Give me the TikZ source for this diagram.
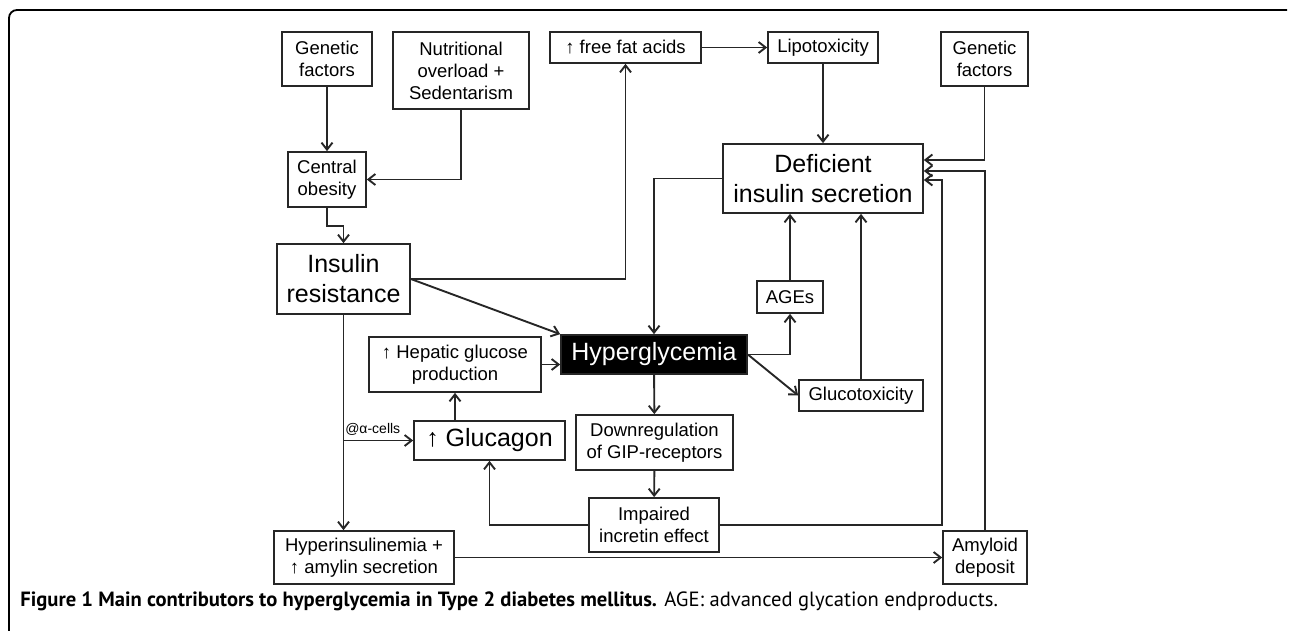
\documentclass[tikz,border=0pt]{standalone}
\usepackage{fontspec}
\setmainfont{Liberation Sans}
\newfontfamily\capfont{PT Sans}
\usetikzlibrary{arrows.meta}

\begin{document}
\begin{tikzpicture}[x=0.5pt, y=-0.5pt,
  box/.style={draw=black!85, line width=0.85pt, inner sep=0pt, align=center,
    font=\fontsize{9.25pt}{11pt}\selectfont},
  bigbox/.style={box, font=\fontsize{12.5pt}{15pt}\selectfont},
  link/.style={line width=0.95pt, draw=black!85},
  arr/.style={link, -{Straight Barb[length=3.5pt,width=5.5pt]}}]
\useasboundingbox (0,0) rectangle (1290,631);

% Marco
\draw [line width=0.9pt, rounded corners=4pt] (9,631) -- (9,10) -- (1287,10);

% Columna izquierda
\node [box, minimum width=45pt, minimum height=27pt] (gen1) at (327,59) {Genetic\\factors};
\node [box, minimum width=68pt, minimum height=38.5pt] (nutr) at (461,70.5) {Nutritional\\overload +\\Sedentarism};
\node [box, minimum width=39pt, minimum height=27.5pt] (obes) at (327,179.5) {Central\\obesity};
\node [bigbox, minimum width=66.5pt, minimum height=35pt] (insres) at (343.5,279) {Insulin\\resistance};
\node [box, minimum width=86pt, minimum height=27.5pt] (hepat) at (455,364.5) {↑ Hepatic glucose\\production};
\node [bigbox, minimum width=75.5pt, minimum height=19.5pt] (glucag) at (489.5,440.5) {↑ Glucagon};
\node [box, minimum width=90pt, minimum height=26.5pt] (hyperins) at (364,557.5) {Hyperinsulinemia +\\↑ amylin secretion};

% Centro
\node [box, minimum width=75.5pt, minimum height=15.5pt] (ffa) at (625.5,47.5) {↑ free fat acids};
\node [bigbox, fill=black, text=white, minimum width=93pt, minimum height=19.5pt] (hyper) at (654,354.5) {Hyperglycemia};
\node [box, minimum width=78.5pt, minimum height=27.5pt] (downr) at (654.5,442.5) {Downregulation\\of GIP-receptors};
\node [box, minimum width=65pt, minimum height=27pt] (impair) at (654,525) {Impaired\\incretin effect};

% Columna derecha
\node [box, minimum width=55pt, minimum height=15.5pt] (lipo) at (823,47.5) {Lipotoxicity};
\node [box, minimum width=43.5pt, minimum height=27pt] (gen2) at (984.5,59) {Genetic\\factors};
\node [bigbox, minimum width=100pt, minimum height=34.5pt] (defic) at (823,178.5) {Deficient\\insulin secretion};
\node [box, minimum width=33pt, minimum height=16pt] (ages) at (790,297) {AGEs};
\node [box, minimum width=62pt, minimum height=15.5pt] (gluco) at (861,395.5) {Glucotoxicity};
\node [box, minimum width=42pt, minimum height=26.5pt] (amyl) at (985,557.5) {Amyloid\\deposit};

% Flechas
\draw [arr] (gen1) -- (obes);
\draw [arr] (nutr.south) |- (obes.east);
\draw [arr] (obes.south) -- ++(0,18) -| (insres.north);
\draw [arr] (insres.east) -| (ffa.south);
\draw [arr] (insres.east) -- (hyper.north west);
\draw [arr] (ffa) -- (lipo);
\draw [arr] (lipo) -- (defic);
\draw [arr] (gen2.south) |- (defic.east |- 0,160);
\draw [arr] (amyl.north) |- (defic.east |- 0,171);
\draw [arr] (impair.east) -| (942,180) -- (defic.east |- 0,180);
\draw [arr] (defic.west) -| (hyper.north);
\draw [arr] (hyper.east) -| (ages.south);
\draw [arr] (ages.north) -- (ages.north |- defic.south);
\draw [arr] (hyper.east) -- (gluco.west);
\draw [arr] (gluco.north) -- (gluco.north |- defic.south);
\draw [arr] (hepat.east) -- (hyper.west |- hepat.east);
\draw [arr] (hepat.south |- glucag.north) -- (hepat.south);
\draw [arr] (insres.south) -- (insres.south |- hyperins.north);
\draw [arr] (insres.south |- glucag.west) -- (glucag.west)
  node [pos=0.42, above, inner sep=2pt, font=\fontsize{7pt}{8pt}\selectfont] (acell) {@α-cells};
\draw [arr] (hyper) -- (downr);
\draw [arr] (downr) -- (impair);
\draw [arr] (impair.west) -| (glucag.south);
\draw [arr] (hyperins.east) -- (amyl.west);

% Pie de figura
\node [anchor=west, inner sep=0pt, font=\capfont\fontsize{10.3pt}{12pt}\selectfont] (caption) at (20,601)
  {\textbf{Figure 1 Main contributors to hyperglycemia in Type 2 diabetes mellitus.} AGE: advanced glycation endproducts.};
\end{tikzpicture}
\end{document}
